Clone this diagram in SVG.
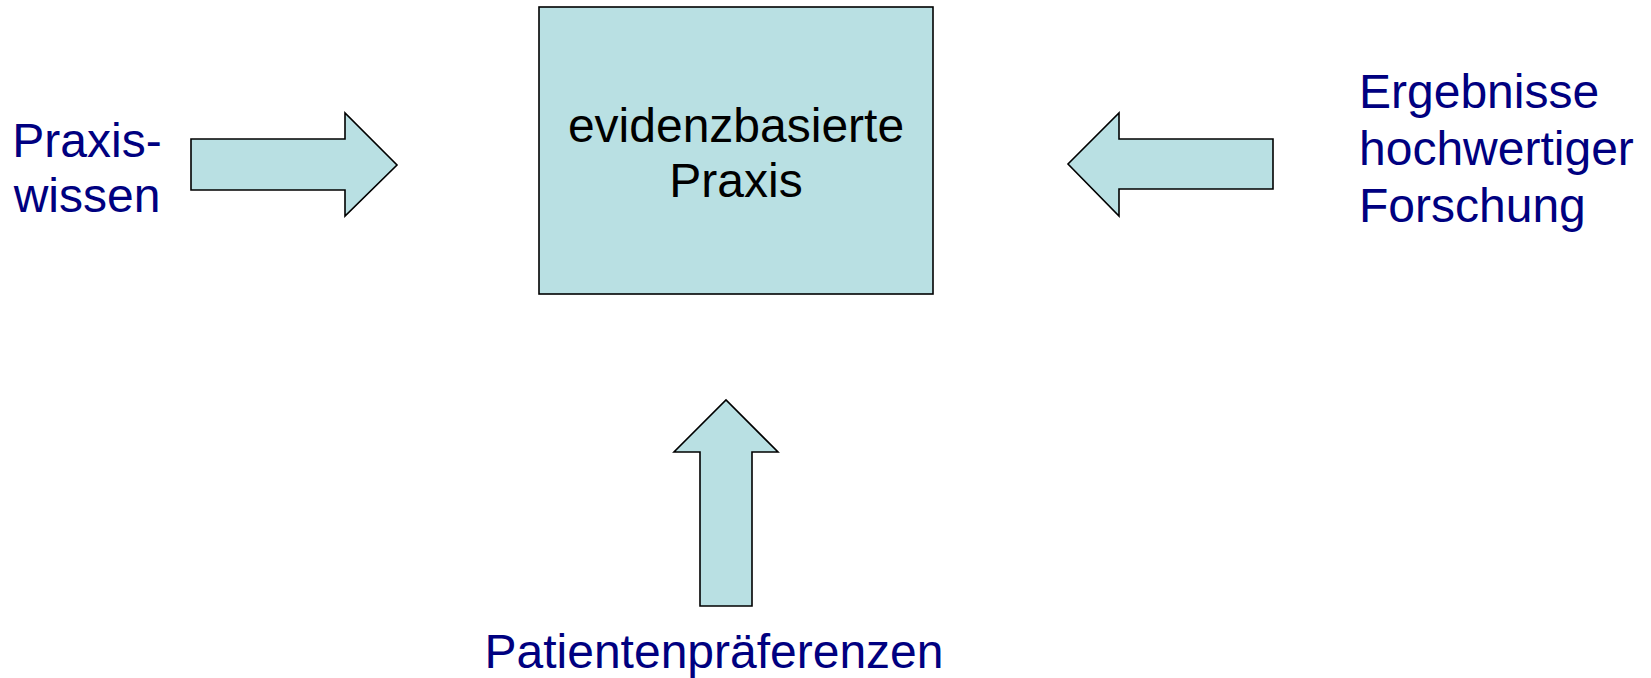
<svg xmlns="http://www.w3.org/2000/svg" width="1651" height="678" viewBox="0 0 1651 678">
<style>
.shape{fill:#B9E0E3;stroke:#000;stroke-width:1.6;stroke-linejoin:miter}
.lbl{font-family:"Liberation Sans",Arial,sans-serif;font-size:48px;fill:#000080}
.box{font-family:"Liberation Sans",Arial,sans-serif;font-size:48px;fill:#000}
</style>
<rect width="1651" height="678" fill="#fff"/>
<g id="center">
<rect class="shape" x="539" y="7" width="394" height="287"/>
<text class="box" x="736" y="142" text-anchor="middle">evidenzbasierte</text>
<text class="box" x="736" y="197" text-anchor="middle">Praxis</text>
</g>
<g id="praxiswissen">
<text class="lbl" x="87" y="157" text-anchor="middle">Praxis-</text>
<text class="lbl" x="87" y="212" text-anchor="middle">wissen</text>
</g>
<g id="forschung">
<text class="lbl" x="1359" y="108">Ergebnisse</text>
<text class="lbl" x="1359" y="165">hochwertiger</text>
<text class="lbl" x="1359" y="222">Forschung</text>
</g>
<g id="patienten">
<text class="lbl" x="714" y="668" text-anchor="middle">Patientenpräferenzen</text>
</g>
<g id="connectors">
<polygon class="shape" points="191,139 345,139 345,113 397,165 345,216 345,190 191,190"/>
<polygon class="shape" points="1273,139 1119,139 1119,113 1068,164 1119,216 1119,189 1273,189"/>
<polygon class="shape" points="700,606 700,452 674,452 726,400 778,452 752,452 752,606"/>
</g>
</svg>
